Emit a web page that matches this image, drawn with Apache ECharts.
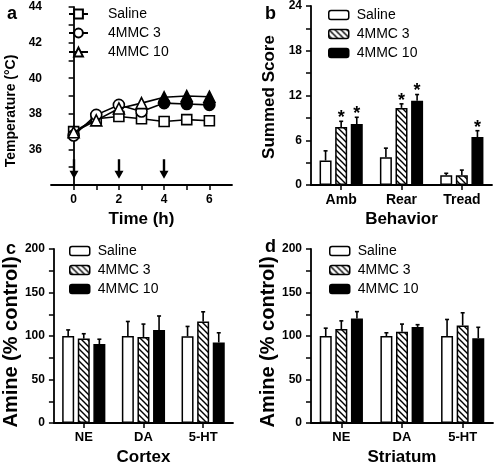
<!DOCTYPE html>
<html><head><meta charset="utf-8">
<script src="https://cdn.jsdelivr.net/npm/echarts@6/dist/echarts.min.js"></script>
<style>html,body{margin:0;padding:0;background:#fff}#c{width:496px;height:467px}</style>
</head><body><div id="c"></div>
<script>
// ---------- Panel a: temperature ----------
const timeHours = [0, 1, 2, 3, 4, 5, 6];
const tempSaline = [37.0, 37.72, 37.85, 37.72, 37.57, 37.67, 37.61];
const temp4MMC3  = [36.78, 37.94, 38.5, 38.13, 38.6, 38.55, 38.5];
const temp4MMC10 = [36.96, 37.63, 38.3, 38.6, 38.93, 39.0, 38.96];
const tempSig3  = [0, 0, 0, 0, 1, 1, 1];
const tempSig10 = [0, 0, 0, 0, 1, 1, 1];
const injectionTimes = [0, 2, 4];
const arrowFrom = 35.45, arrowTo = 34.35;
const tempXLabels = [0, 2, 4, 6];

// ---------- Panel b: behavior ----------
const behaviorCats = ['Amb', 'Rear', 'Tread'];
const behSaline   = [3.28, 3.73, 1.3];
const behSalineSem = [1.3, 1.21, 0.27];
const beh4MMC3    = [7.78, 10.34, 1.3];
const beh4MMC3Sem = [0.76, 0.54, 0.7];
const beh4MMC10   = [8.18, 11.28, 6.43];
const beh4MMC10Sem = [0.9, 0.85, 0.85];
const behSig3  = [1, 1, 0];
const behSig10 = [1, 1, 1];

// ---------- Panel c: cortex ----------
const amineCats = ['NE', 'DA', '5-HT'];
const ctxSaline = [100, 100, 99.6];
const ctxSalineSem = [7, 16.7, 11.4];
const ctx4MMC3 = [97, 98.9, 116.7];
const ctx4MMC3Sem = [5.6, 14.8, 11.1];
const ctx4MMC10 = [90.7, 107, 92.6];
const ctx4MMC10Sem = [5.6, 16, 11.1];

// ---------- Panel d: striatum ----------
const strSaline = [100, 100, 100];
const strSalineSem = [9, 3.7, 19];
const str4MMC3 = [108, 104.8, 112];
const str4MMC3Sem = [9.4, 8.9, 14.7];
const str4MMC10 = [120, 110.4, 97.4];
const str4MMC10Sem = [8, 2.6, 12.6];
const noSig = [0, 0, 0];

const FONT = 'Liberation Sans, Arial, sans-serif';

// hatch pattern
const hc = document.createElement('canvas');
hc.width = 6; hc.height = 6;
const hx = hc.getContext('2d');
hx.fillStyle = '#fff'; hx.fillRect(0, 0, 6, 6);
hx.strokeStyle = '#000'; hx.lineWidth = 1.4;
hx.beginPath();
hx.moveTo(-1, -1); hx.lineTo(7, 7);
hx.moveTo(-1, 5); hx.lineTo(1, 7);
hx.moveTo(5, -1); hx.lineTo(7, 1);
hx.stroke();
const hatch = { image: hc, repeat: 'repeat' };

const fills = ['#fff', hatch, '#000'];
const barNames = ['Saline ', '4MMC 3 ', '4MMC 10 '];
const lineNames = ['Saline', '4MMC 3', '4MMC 10'];

const axisLineStyle = { lineStyle: { color: '#000', width: 1.8 } };
const tickStyle = { show: true, inside: false, length: 5, lineStyle: { color: '#000', width: 1.5 } };
const minorStyle = { show: true, splitNumber: 2, length: 5, lineStyle: { color: '#000', width: 1.5 } };
const numLabel = { color: '#000', fontWeight: 'bold', fontSize: 12, fontFamily: FONT };
const titleFont = { color: '#000', fontWeight: 'bold', fontSize: 17, fontFamily: FONT };

function valueY(grid, min, max, interval, name, nameGap, nameSize, hideMin, shift) {
  return {
    type: 'value', gridIndex: grid, min, max, interval,
    axisLine: { show: true, ...axisLineStyle }, axisTick: tickStyle, minorTick: minorStyle,
    splitLine: { show: false }, minorSplitLine: { show: false },
    axisLabel: { ...numLabel, margin: 9, formatter: v => (hideMin && v === min) ? '' : String(v) },
    name: '{t|' + name + '}{s| }', nameLocation: 'middle', nameGap,
    nameTextStyle: { ...titleFont, fontSize: nameSize,
      rich: { t: { ...titleFont, fontSize: nameSize }, s: { width: shift, fontSize: nameSize } } }
  };
}
function catX(grid, name, size) {
  return {
    type: 'category', gridIndex: grid, data: grid === 1 ? behaviorCats : amineCats,
    axisLine: { show: true, ...axisLineStyle },
    axisTick: { ...tickStyle, alignWithLabel: true },
    axisLabel: { color: '#000', fontWeight: 'bold', fontSize: size, fontFamily: FONT, margin: 8 },
    name, nameLocation: 'middle', nameGap: 26, nameTextStyle: titleFont
  };
}

const series = [];
// line series panel a
const lineData = [tempSaline, temp4MMC3, temp4MMC10];
const lineSig = [[0,0,0,0,0,0,0], tempSig3, tempSig10];
const symbols = ['rect', 'circle', 'triangle'];
const symSizes = [10, 11, 11];
lineData.forEach((arr, k) => {
  series.push({
    type: 'line', name: lineNames[k], xAxisIndex: 0, yAxisIndex: 0,
    symbol: symbols[k], symbolSize: symSizes[k],
    lineStyle: { color: '#000', width: 1.6 },
    itemStyle: { color: '#fff', borderColor: '#000', borderWidth: 1.6 },
    z: 3 + k,
    data: timeHours.map((t, i) => lineSig[k][i]
      ? { value: [t, arr[i]], itemStyle: { color: '#000' } }
      : { value: [t, arr[i]] })
  });
});
// injection arrows
series.push({
  type: 'custom', xAxisIndex: 0, yAxisIndex: 0, silent: true, z: 50, zlevel: 1, clip: false,
  data: injectionTimes.map(t => [t, arrowFrom, arrowTo]),
  encode: { x: 0, y: [1, 2] },
  renderItem: (params, api) => {
    const a = api.coord([api.value(0), api.value(1)]);
    const b = api.coord([api.value(0), api.value(2)]);
    const x = Math.round(a[0]), y0 = a[1], y1 = b[1];
    return {
      type: 'polygon',
      shape: { points: [[x - 1.2, y0], [x + 1.2, y0], [x + 1.2, y1 - 8], [x + 4.5, y1 - 8], [x, y1], [x - 4.5, y1 - 8], [x - 1.2, y1 - 8]] },
      style: { fill: '#000' }
    };
  }
});

function barPanel(grid, means, sems, sigs) {
  const BW = 12, GAP = 3.6;
  means.forEach((m, k) => {
    series.push({
      type: 'bar', name: barNames[k], xAxisIndex: grid, yAxisIndex: grid,
      barWidth: BW, barGap: '30%',
      itemStyle: { color: fills[k], borderColor: '#000', borderWidth: 1.5 },
      data: m
    });
  });
  means.forEach((m, k) => {
    const off = (k - 1) * (BW + GAP);
    series.push({
      type: 'custom', xAxisIndex: grid, yAxisIndex: grid, silent: true, z: 5,
      data: m.map((v, i) => [i, v, v + sems[k][i], sigs[k][i]]),
      encode: { x: 0, y: [1, 2] },
      renderItem: (params, api) => {
        const p = api.coord([api.value(0), api.value(1)]);
        const t = api.coord([api.value(0), api.value(2)]);
        const x = p[0] + off;
        const ch = [
          { type: 'line', shape: { x1: x, y1: p[1], x2: x, y2: t[1] }, style: { stroke: '#000', lineWidth: 1.6 } },
          { type: 'line', shape: { x1: x - 2, y1: t[1], x2: x + 2, y2: t[1] }, style: { stroke: '#000', lineWidth: 1.6 } }
        ];
        if (api.value(3)) {
          ch.push({ type: 'text', style: { text: '*', x: x, y: t[1] - 3, align: 'center', verticalAlign: 'middle',
            fontSize: 18, fontWeight: 'bold', fontFamily: FONT, fill: '#000' } });
        }
        return { type: 'group', children: ch };
      }
    });
  });
}
barPanel(1, [behSaline, beh4MMC3, beh4MMC10], [behSalineSem, beh4MMC3Sem, beh4MMC10Sem], [noSig, behSig3, behSig10]);
barPanel(2, [ctxSaline, ctx4MMC3, ctx4MMC10], [ctxSalineSem, ctx4MMC3Sem, ctx4MMC10Sem], [noSig, noSig, noSig]);
barPanel(3, [strSaline, str4MMC3, str4MMC10], [strSalineSem, str4MMC3Sem, str4MMC10Sem], [noSig, noSig, noSig]);

const legTxt = { color: '#000', fontSize: 14, fontFamily: FONT };
function barLegend(left, top) {
  return {
    data: barNames, orient: 'vertical', left, top, itemWidth: 20, itemHeight: 9, itemGap: 5,
    selectedMode: false, formatter: n => n.trim(),
    textStyle: { ...legTxt, padding: [0, 0, 0, 3] },
    itemStyle: { borderColor: '#000', borderWidth: 1.5 }
  };
}

const option = {
  animation: false,
  backgroundColor: '#fff',
  title: [
    { text: 'a', left: 2, top: 0, textStyle: { ...titleFont, fontSize: 18 } },
    { text: 'b', left: 260, top: 0, textStyle: { ...titleFont, fontSize: 18 } },
    { text: 'c', left: 1, top: 235, textStyle: { ...titleFont, fontSize: 18 } },
    { text: 'd', left: 260, top: 233, textStyle: { ...titleFont, fontSize: 18 } }
  ],
  grid: [
    { left: 51, top: 7, width: 181, height: 178 },
    { left: 311, top: 6, width: 181, height: 179 },
    { left: 52, top: 249, width: 181, height: 179 },
    { left: 311, top: 249, width: 182, height: 179 }
  ],
  legend: [
    { data: lineNames, orient: 'vertical', left: 63, top: 2, itemWidth: 19, itemHeight: 11, itemGap: 5,
      selectedMode: false, textStyle: { ...legTxt, padding: [0, 0, 0, 15] } },
    barLegend(323, 3),
    barLegend(64, 239),
    barLegend(324, 239)
  ],
  xAxis: [
    { type: 'value', gridIndex: 0, min: -1, max: 7, interval: 1,
      axisLine: { show: true, ...axisLineStyle },
      axisTick: { ...tickStyle, customValues: timeHours },
      axisLabel: { ...numLabel, margin: 9, customValues: tempXLabels },
      splitLine: { show: false },
      name: 'Time (h)', nameLocation: 'middle', nameGap: 26, nameTextStyle: titleFont },
    catX(1, 'Behavior', 14),
    catX(2, 'Cortex', 13),
    catX(3, 'Striatum', 13)
  ],
  yAxis: [
    valueY(0, 34, 44, 2, 'Temperature (°C)', 33, 14, true, 30),
    valueY(1, 0, 24, 6, 'Summed Score', 33, 17, false, 3),
    valueY(2, 0, 200, 50, 'Amine (% control)', 31, 20, false, 12),
    valueY(3, 0, 200, 50, 'Amine (% control)', 31, 20, false, 12)
  ],
  series
};
const chart = echarts.init(document.getElementById('c'), null, { renderer: 'canvas' });
chart.setOption(option);
</script></body></html>
